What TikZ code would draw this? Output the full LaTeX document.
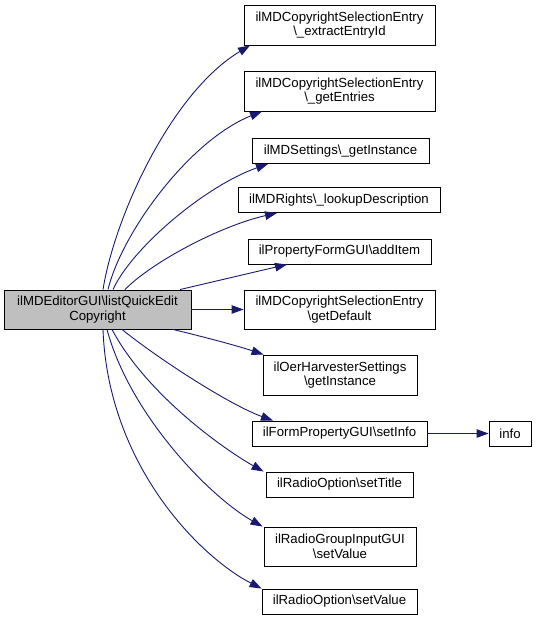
\documentclass[tikz,border=0pt]{standalone}
\usepackage{fontspec}
\setmainfont{Liberation Sans}
\usetikzlibrary{arrows.meta}
\definecolor{edgecol}{HTML}{191970}
\definecolor{rootfill}{HTML}{BFBFBF}
\tikzset{
  fn/.style={draw=black, line width=0.9pt, fill=white, inner sep=0pt, align=center,
    font=\fontsize{13.2}{14.5}\selectfont, anchor=center},
  rootfn/.style={fn, fill=rootfill},
  call/.style={draw=edgecol, line width=0.9pt, -{Triangle[length=12pt,width=8.5pt]}, edgecol}
}
\begin{document}
\begin{tikzpicture}[x=1pt,y=-1pt]
\useasboundingbox (0,0) rectangle (537,621);
\node[rootfn, minimum width=187, minimum height=39] (root) at (97.5,309.5) {ilMDEditorGUI\textbackslash listQuickEdit\\Copyright};
\node[fn, minimum width=191, minimum height=40] (b1) at (339.5,25) {ilMDCopyrightSelectionEntry\\\textbackslash\_extractEntryId};
\node[fn, minimum width=191, minimum height=40] (b2) at (339.5,91) {ilMDCopyrightSelectionEntry\\\textbackslash\_getEntries};
\node[fn, minimum width=177, minimum height=25] (b3) at (340.5,151) {ilMDSettings\textbackslash\_getInstance};
\node[fn, minimum width=202, minimum height=25] (b4) at (339,200) {ilMDRights\textbackslash\_lookupDescription};
\node[fn, minimum width=183, minimum height=25] (b5) at (339.5,251.5) {ilPropertyFormGUI\textbackslash addItem};
\node[fn, minimum width=191, minimum height=39] (b6) at (339.5,309.5) {ilMDCopyrightSelectionEntry\\\textbackslash getDefault};
\node[fn, minimum width=154, minimum height=40] (b7) at (340,375) {ilOerHarvesterSettings\\\textbackslash getInstance};
\node[fn, minimum width=175, minimum height=25] (b8) at (339.5,433.5) {ilFormPropertyGUI\textbackslash setInfo};
\node[fn, minimum width=42, minimum height=25] (b9) at (510,433.5) {info};
\node[fn, minimum width=147, minimum height=25] (b10) at (339.5,484.5) {ilRadioOption\textbackslash setTitle};
\node[fn, minimum width=152, minimum height=39] (b11) at (340,546.5) {ilRadioGroupInputGUI\\\textbackslash setValue};
\node[fn, minimum width=155, minimum height=25] (b12) at (339.5,601.5) {ilRadioOption\textbackslash setValue};

\draw[call] ([xshift=5.5]root.north) .. controls (115,215) and (172,92) .. ([xshift=-89.5]b1.south);
\draw[call] ([xshift=10.5]root.north) .. controls (122,232) and (190,140) .. ([xshift=-77.5]b2.south);
\draw[call] ([xshift=15.5]root.north) .. controls (132,248) and (205,186) .. ([xshift=-72.5]b3.south);
\draw[call] ([xshift=27.5]root.north) .. controls (152,262) and (220,226) .. ([xshift=-62]b4.south);
\draw[call] ([xshift=82.5]root.north) -- ([xshift=-52.5]b5.south);
\draw[call] (root.east) -- (b6.west);
\draw[call] ([xshift=75.5]root.south) .. controls (200,336) and (235,345) .. ([xshift=1]b7.north west);
\draw[call] ([xshift=24.5]root.south) .. controls (160,360) and (230,405) .. ([xshift=-66.5]b8.north);
\draw[call] (b8.east) -- (b9.west);
\draw[call] ([xshift=14.5]root.south) .. controls (145,392) and (220,447) .. ([xshift=-2]b10.north west);
\draw[call] ([xshift=9.5]root.south) .. controls (130,415) and (210,497) .. ([xshift=-1]b11.north west);
\draw[call] ([xshift=5.5]root.south) .. controls (108,465) and (200,557) .. (b12.north west);
\end{tikzpicture}
\end{document}
